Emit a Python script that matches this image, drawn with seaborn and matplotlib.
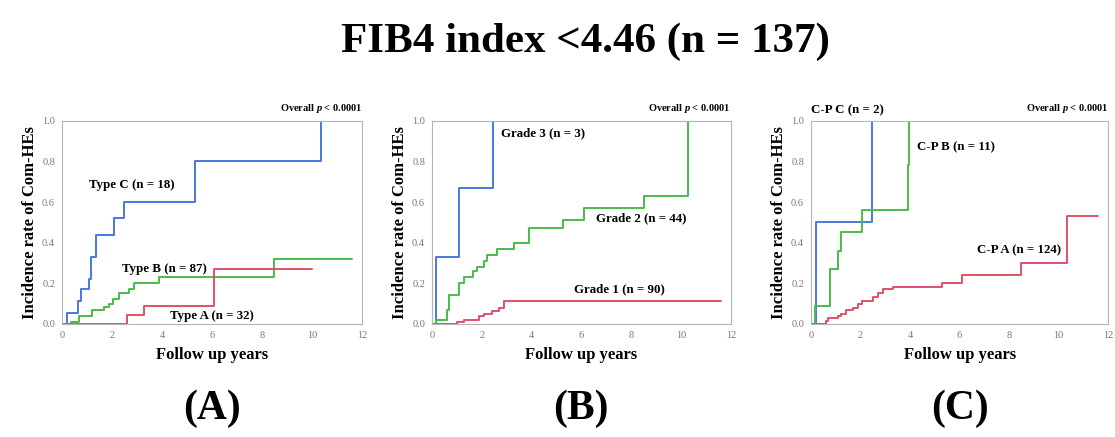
import pandas as pd
import matplotlib.pyplot as plt
import seaborn as sns
from matplotlib.ticker import MultipleLocator

sns.set_style('white')
plt.rcParams['font.family'] = ['Liberation Serif', 'DejaVu Serif']
plt.rcParams['mathtext.fontset'] = 'custom'
plt.rcParams['mathtext.it'] = 'Liberation Serif:italic:bold'
plt.rcParams['text.color'] = 'black'
plt.rcParams['axes.labelcolor'] = 'black'

# panel A - Type
type_c_t = [0, 0.2, 0.63, 0.77, 1.07, 1.16, 1.37, 2.1, 2.5, 5.33, 10.37]
type_c_y = [0, 0.055, 0.11, 0.17, 0.22, 0.33, 0.44, 0.52, 0.6, 0.8, 1.0]
type_b_t = [0, 0.35, 0.7, 1.2, 1.7, 1.9, 2.05, 2.3, 2.7, 2.9, 3.9, 8.5, 11.6]
type_b_y = [0, 0.01, 0.04, 0.07, 0.085, 0.1, 0.12, 0.15, 0.17, 0.2, 0.23, 0.32, 0.32]
type_a_t = [0, 2.6, 3.3, 6.1, 10.0]
type_a_y = [0, 0.045, 0.09, 0.27, 0.27]

# panel B - Grade
grade3_t = [0, 0.15, 1.1, 2.45]
grade3_y = [0, 0.33, 0.67, 1.0]
grade2_t = [0, 0.15, 0.6, 0.7, 1.1, 1.3, 1.65, 1.8, 2.1, 2.2, 2.6, 3.3, 3.9, 5.25, 6.1, 8.5, 10.3]
grade2_y = [0, 0.02, 0.07, 0.14, 0.2, 0.23, 0.26, 0.28, 0.31, 0.34, 0.37, 0.4, 0.47, 0.51, 0.57, 0.63, 1.0]
grade1_t = [0, 1.0, 1.3, 1.9, 2.1, 2.4, 2.7, 2.9, 11.6]
grade1_y = [0, 0.01, 0.02, 0.04, 0.05, 0.065, 0.08, 0.11, 0.11]

# panel C - Child-Pugh
cpc_t = [0, 0.2, 2.45]
cpc_y = [0, 0.5, 1.0]
cpb_t = [0, 0.15, 0.75, 1.1, 1.2, 2.05, 3.9, 3.95]
cpb_y = [0, 0.09, 0.27, 0.36, 0.45, 0.56, 0.78, 1.0]
cpa_t = [0, 0.6, 0.7, 1.1, 1.2, 1.4, 1.7, 1.9, 2.05, 2.5, 2.7, 2.9, 3.3, 5.3, 6.1, 8.5, 10.35, 11.6]
cpa_y = [0, 0.015, 0.03, 0.04, 0.05, 0.07, 0.08, 0.1, 0.11, 0.13, 0.15, 0.17, 0.18, 0.2, 0.24, 0.3, 0.53, 0.53]

blue = '#4a78e0'
green = '#4cbb4c'
red = '#e0506a'

panels = [
    ('(A)', [(type_c_t, type_c_y, blue, 'Type C (n = 18)', 1.07, 0.685),
             (type_b_t, type_b_y, green, 'Type B (n = 87)', 2.4, 0.27),
             (type_a_t, type_a_y, red, 'Type A (n = 32)', 4.33, 0.04)]),
    ('(B)', [(grade3_t, grade3_y, blue, 'Grade 3 (n = 3)', 2.77, 0.94),
             (grade2_t, grade2_y, green, 'Grade 2 (n = 44)', 6.6, 0.52),
             (grade1_t, grade1_y, red, 'Grade 1 (n = 90)', 5.7, 0.17)]),
    ('(C)', [(cpc_t, cpc_y, blue, 'C-P C (n = 2)', 0.0, 1.05),
             (cpb_t, cpb_y, green, 'C-P B (n = 11)', 4.27, 0.87),
             (cpa_t, cpa_y, red, 'C-P A (n = 124)', 6.7, 0.36)]),
]

fig = plt.figure(figsize=(11.15, 4.37), dpi=100)
fig.text(0.525, 0.905, 'FIB4 index <4.46 (n = 137)', ha='center', va='center',
         fontsize=31, fontweight='bold')

lefts = [0.0556, 0.3874, 0.7274]
widths = [0.269, 0.268, 0.2664]
for (tag, curves), left, w in zip(panels, lefts, widths):
    ax = fig.add_axes([left, 0.259, w, 0.4645])
    for t, y, col, lab, lx, ly in curves:
        df = pd.DataFrame({'t': t, 'y': y})
        sns.lineplot(data=df, x='t', y='y', ax=ax, color=col, lw=1.4,
                     drawstyle='steps-post', estimator=None, sort=False)
        ax.text(lx, ly, lab, fontsize=9.3, fontweight='bold', va='center',
                ha='left', clip_on=False)
    ax.set_xlim(0, 12)
    ax.set_ylim(0, 1.0)
    ax.xaxis.set_major_locator(MultipleLocator(2))
    ax.xaxis.set_minor_locator(MultipleLocator(1))
    ax.yaxis.set_major_locator(MultipleLocator(0.2))
    ax.yaxis.set_minor_locator(MultipleLocator(0.1))
    ax.set_yticks(ax.get_yticks())
    ax.set_yticklabels([f'{v:.1f}' for v in ax.get_yticks()])
    ax.set_ylim(0, 1.0)
    ax.tick_params(which='both', direction='out', color='#999999', labelcolor='#777777',
                   labelsize=7.5, width=0.7)
    ax.tick_params(which='major', length=3, pad=2)
    ax.tick_params(which='minor', length=2)
    for s in ax.spines.values():
        s.set_color('#b5b5b5')
        s.set_linewidth(0.8)
    ax.set_xlabel('Follow up years', fontsize=12, fontweight='bold', labelpad=5)
    ax.set_ylabel('Incidence rate of Com-HEs', fontsize=12, fontweight='bold', labelpad=3)
    ax.text(1.0, 1.06, 'Overall $p$ < 0.0001', transform=ax.transAxes,
            ha='right', va='center', fontsize=7.5, fontweight='bold')
    ax.text(0.5, -0.42, tag, transform=ax.transAxes, ha='center', va='center',
            fontsize=30, fontweight='bold')

fig.savefig('out.png', dpi=100)
